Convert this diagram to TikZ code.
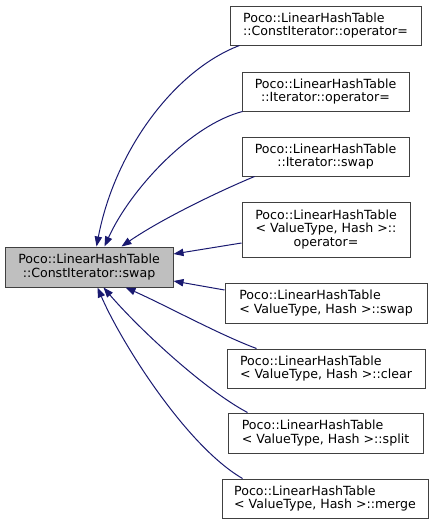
\documentclass[tikz,border=0pt]{standalone}
\usepackage{fontspec}
\setmainfont{DejaVu Sans}
\usetikzlibrary{arrows.meta,calc}
\definecolor{edgecol}{HTML}{191970}
\definecolor{boxborder}{HTML}{404040}
\definecolor{mainfill}{HTML}{BFBFBF}
\begin{document}
\begin{tikzpicture}[x=0.75pt,y=-0.75pt,
  box/.style={draw=boxborder, line width=0.75pt, fill=white, inner sep=0pt,
    anchor=center, font=\fontsize{9.45}{10.2}\selectfont},
  mainbox/.style={box, fill=mainfill},
  edge/.style={draw=edgecol, line width=0.75pt,
    -{Triangle[length=7.5pt,width=5.5pt]}, color=edgecol}]
\useasboundingbox (0,0) rectangle (436,525);
\node[mainbox, minimum width=126pt, minimum height=30pt, align=center] (m) at (89,267) {Poco::LinearHashTable\\::ConstIterator::swap};
\node[box, minimum width=143.25pt, minimum height=29.25pt, align=left] (b1) at (325.5,25.5) {Poco::LinearHashTable\\::ConstIterator::operator=};
\node[box, minimum width=125.25pt, minimum height=29.25pt, align=center] (b2) at (325.5,91.5) {Poco::LinearHashTable\\::Iterator::operator=};
\node[box, minimum width=125.25pt, minimum height=29.25pt, align=center] (b3) at (325.5,156.5) {Poco::LinearHashTable\\::Iterator::swap};
\node[box, minimum width=126pt, minimum height=41.25pt, align=center] (b4) at (326,229.5) {Poco::LinearHashTable\\< ValueType, Hash >::\\operator=};
\node[box, minimum width=151.5pt, minimum height=30pt, align=left] (b5) at (326,303) {Poco::LinearHashTable\\< ValueType, Hash >::swap};
\node[box, minimum width=148.5pt, minimum height=29.25pt, align=left] (b6) at (326,368.5) {Poco::LinearHashTable\\< ValueType, Hash >::clear};
\node[box, minimum width=146.25pt, minimum height=30pt, align=left] (b7) at (325.5,433) {Poco::LinearHashTable\\< ValueType, Hash >::split};
\node[box, minimum width=154.5pt, minimum height=29.25pt, align=left] (b8) at (325,498.5) {Poco::LinearHashTable\\< ValueType, Hash >::merge};
\draw[edge] ($(b1.south west)+(10,0)$) .. controls (175,70) and (115,150) .. ($(m.north west)+(92,0)$);
\draw[edge] ($(b2.south west)+(1,0)$) .. controls (190,125) and (130,190) .. ($(m.north west)+(100,0)$);
\draw[edge] ($(b3.south west)+(13,0)$) .. controls (215,193) and (160,220) .. ($(m.north west)+(117,0)$);
\draw[edge] ($(b4.west)+(0,13.5)$) -- ($(m.east)+(0,-13)$);
\draw[edge] ($(b5.west)+(0,-13)$) -- ($(m.east)+(0,14)$);
\draw[edge] ($(b6.north west)+(30,0)$) .. controls (220,335) and (165,305) .. ($(m.south west)+(121,0)$);
\draw[edge] ($(b7.north west)+(20,0)$) .. controls (205,390) and (140,330) .. ($(m.south west)+(99,0)$);
\draw[edge] ($(b8.north west)+(21,0)$) .. controls (185,445) and (120,340) .. ($(m.south west)+(93,0)$);
\end{tikzpicture}
\end{document}
